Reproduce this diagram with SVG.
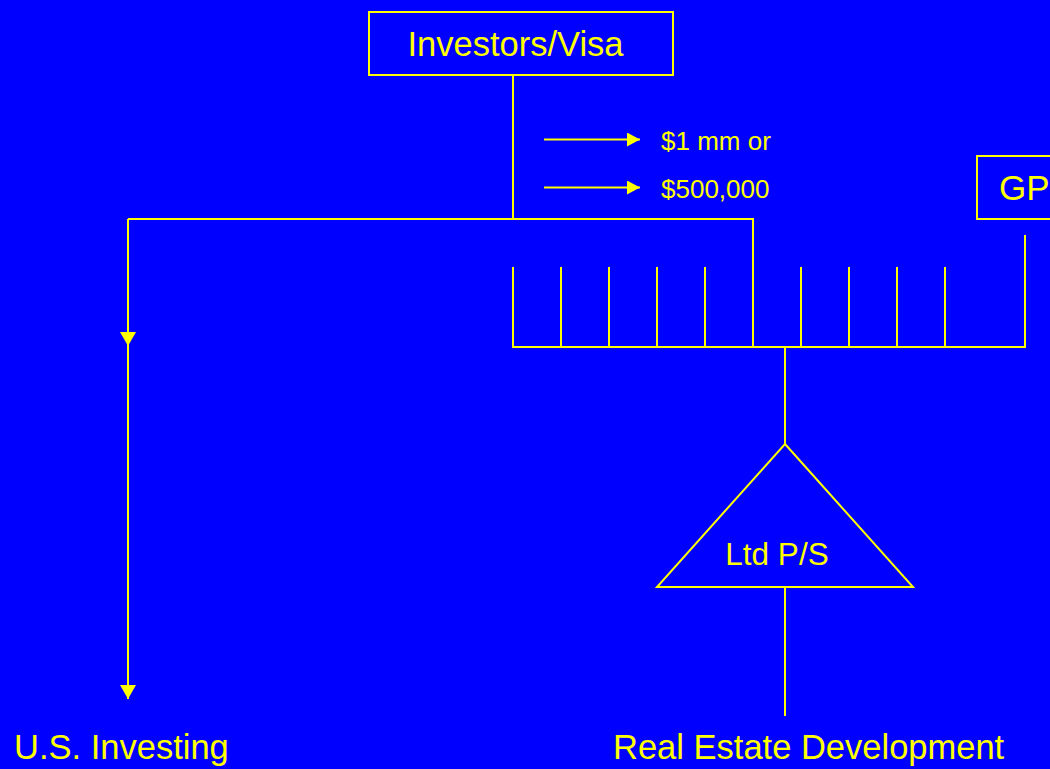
<svg xmlns="http://www.w3.org/2000/svg" width="1050" height="769" viewBox="0 0 1050 769">
<style>
.ln{stroke:#FFFF00;stroke-width:2;fill:none}
.bx{stroke:#FFFF00;stroke-width:2;fill:#0000FF}
.t{fill:#FFFF00;font-family:"Liberation Sans",Arial,sans-serif}
</style>
<defs>
<marker id="ah" viewBox="0 0 14 16" refX="14" refY="8" markerWidth="14" markerHeight="16" markerUnits="userSpaceOnUse" orient="auto">
<path d="M0,0 L14,8 L0,16 Z" fill="#FFFF00"/>
</marker>
<marker id="ahs" viewBox="0 0 13 14" refX="13" refY="7" markerWidth="13" markerHeight="14" markerUnits="userSpaceOnUse" orient="auto">
<path d="M0,0 L13,7 L0,14 Z" fill="#FFFF00"/>
</marker>
</defs>
<rect width="1050" height="769" fill="#0000FF"/>
<g id="connectors">
<path class="ln" d="M513,75 V219"/>
<path class="ln" d="M128,219 H753 V347"/>
<path class="ln" d="M128,219 V346" marker-end="url(#ah)"/>
<path class="ln" d="M128,346 V699" marker-end="url(#ah)"/>
<path class="ln" d="M544,139.5 H640" marker-end="url(#ahs)"/>
<path class="ln" d="M544,187.5 H640" marker-end="url(#ahs)"/>
<path class="ln" d="M1025,235 V347"/>
<path class="ln" d="M513,267 V347 M561,267 V347 M609,267 V347 M657,267 V347 M705,267 V347 M801,267 V347 M849,267 V347 M897,267 V347 M945,267 V347"/>
<path class="ln" d="M512,347 H1026"/>
<path class="ln" d="M785,347 V444"/>
<path class="ln" d="M785,587 V716"/>
</g>
<g id="investors">
<rect class="bx" x="369" y="12" width="304" height="63"/>
<text class="t" x="515.5" y="55.5" font-size="34.5" text-anchor="middle">Investors/Visa</text>
</g>
<g id="gp">
<rect class="bx" x="977" y="156" width="90" height="63"/>
<text class="t" x="999" y="200" font-size="35">GP</text>
</g>
<g id="amounts">
<text class="t" x="661" y="150" font-size="26">$1 mm or</text>
<text class="t" x="661" y="198" font-size="26">$500,000</text>
</g>
<g id="ltdps">
<polygon class="bx" points="785,444 913,587 657,587"/>
<text class="t" x="777" y="565" font-size="31.5" text-anchor="middle">Ltd P/S</text>
</g>
<g id="us-investing">
<text class="t" x="14" y="759" font-size="34.5">U.S. Investing</text>
</g>
<g id="real-estate">
<text class="t" x="613" y="759" font-size="34.5">Real Estate Development</text>
</g>
</svg>
